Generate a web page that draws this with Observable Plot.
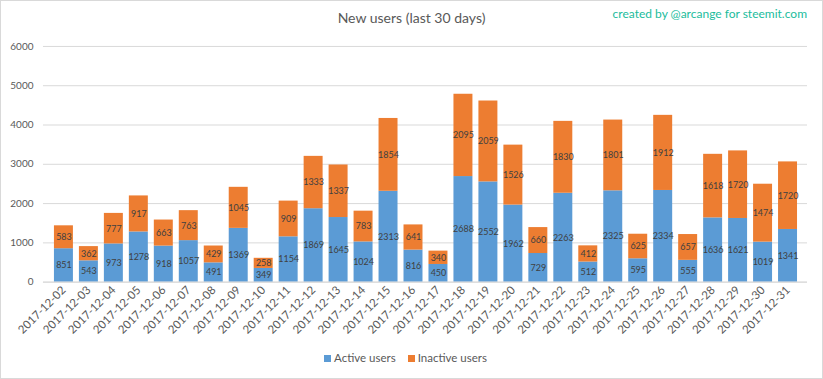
<!DOCTYPE html>
<html><head><meta charset="utf-8">
<script src="https://cdn.jsdelivr.net/npm/d3@7"></script>
<script src="https://cdn.jsdelivr.net/npm/@observablehq/plot@0.6"></script>
<style>
body{margin:0;background:#fff;font-family:Lato,"Open Sans",sans-serif;}
#wrap{position:relative;width:821px;height:377px;border:1px solid #d9d9d9;overflow:hidden;}
#chart{position:absolute;left:-1px;top:-1px;}
#title{position:absolute;left:0;width:821px;top:8px;text-align:center;font-size:14px;color:#595959;}
#credit{position:absolute;right:15px;top:5px;font-size:12px;color:#1abc9c;}
#legend{position:absolute;left:0;width:821px;top:350px;text-align:center;font-size:11.5px;color:#595959;}
#legend span.sw{display:inline-block;width:7px;height:7px;margin-right:3px;vertical-align:0px;}
#legend span.it{margin-right:12px;}
</style></head>
<body>
<div id="wrap">
<div id="chart"></div>
<div id="title">New users (last 30 days)</div>
<div id="credit">created by @arcange for steemit.com</div>
<div id="legend"></div>
</div>
<script>
const dates = ["2017-12-02","2017-12-03","2017-12-04","2017-12-05","2017-12-06","2017-12-07","2017-12-08","2017-12-09","2017-12-10","2017-12-11","2017-12-12","2017-12-13","2017-12-14","2017-12-15","2017-12-16","2017-12-17","2017-12-18","2017-12-19","2017-12-20","2017-12-21","2017-12-22","2017-12-23","2017-12-24","2017-12-25","2017-12-26","2017-12-27","2017-12-28","2017-12-29","2017-12-30","2017-12-31"];
const active = [851,543,973,1278,918,1057,491,1369,349,1154,1869,1645,1024,2313,816,450,2688,2552,1962,729,2263,512,2325,595,2334,555,1636,1621,1019,1341];
const inactive = [583,362,777,917,663,763,429,1045,258,909,1333,1337,783,1854,641,340,2095,2059,1526,660,1830,412,1801,625,1912,657,1618,1720,1474,1720];
const seriesNames = ["Active users","Inactive users"];
const seriesColors = ["#5b9bd5","#ed7d31"];
const yTicks = [0,1000,2000,3000,4000,5000,6000];

const rows = [];
dates.forEach((d,i)=>{
  rows.push({date:d, series:seriesNames[0], value:active[i]});
  rows.push({date:d, series:seriesNames[1], value:inactive[i]});
});

const chart = Plot.plot({
  width: 823, height: 379,
  marginTop: 46, marginBottom: 97, marginLeft: 43, marginRight: 15,
  style: {fontFamily: "Lato, 'Open Sans', sans-serif", fontSize: "10px", color: "#595959", background: "transparent"},
  x: {domain: dates, padding: 0.25, label: null, tickSize: 0, tickPadding: 6, tickRotate: -45},
  y: {domain: [0,6000], ticks: yTicks, label: null, tickSize: 0, tickPadding: 10, tickFormat: d => String(d)},
  color: {domain: seriesNames, range: seriesColors},
  marks: [
    Plot.gridY(yTicks, {stroke: "#d9d9d9", strokeOpacity: 1}),
    Plot.barY(rows, Plot.stackY({x: "date", y: "value", fill: "series", order: seriesNames})),
    Plot.text(rows, Plot.stackY({x: "date", y: "value", z: "series", order: seriesNames, text: d => String(d.value), fill: "#404040", fontSize: 9})),
    Plot.ruleY([0], {stroke: "#d9d9d9"}),
    Plot.axisX({tickSize: 0, tickPadding: 6, tickRotate: -45, fontSize: 11.5, label: null})
  ]
});
document.getElementById("chart").appendChild(chart);

const lg = document.getElementById("legend");
seriesNames.forEach((n,i)=>{
  const sw = document.createElement("span"); sw.className="sw"; sw.style.background = seriesColors[i];
  const t = document.createElement("span"); t.className="it"; t.textContent = n;
  lg.appendChild(sw); lg.appendChild(t);
});
</script>
</body></html>
